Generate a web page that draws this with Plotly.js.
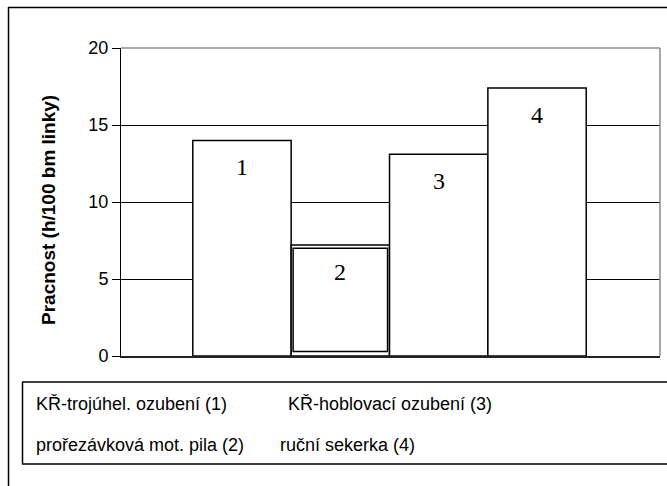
<!DOCTYPE html>
<html>
<head>
<meta charset="utf-8">
<script src="https://cdn.plot.ly/plotly-3.0.1.min.js"></script>
<style>
html,body{margin:0;padding:0;background:#fff;overflow:hidden;}
#chart{width:667px;height:486px;}
</style>
</head>
<body>
<div id="chart"></div>
<script>
// Data
var categories = ["1", "2", "3", "4"];
var values = [14.0, 7.2, 13.1, 17.4];
var barLabels = ["1", "2", "3", "4"];
// inner overlapping rectangle seen on bar 2
var innerCategory = ["2"];
var innerBase = [0.3];
var innerHeight = [6.7];
var yTicks = [0, 5, 10, 15, 20];
var yTitle = "Pracnost (h/100 bm linky)";
var legendTexts = [
  "KŘ-trojúhel. ozubení (1)",
  "KŘ-hoblovací ozubení (3)",
  "prořezávková mot. pila (2)",
  "ruční sekerka (4)"
];

// pixel -> paper helpers (plot area: x 121..660, y 48..356)
function px(x){ return (x - 121) / 539; }
function py(y){ return (356 - y) / 308; }

var traces = [
  {
    type: "bar",
    x: categories,
    y: values,
    width: 1,
    marker: {color: "#ffffff", line: {color: "#000000", width: 1.5}},
    hoverinfo: "x+y",
    showlegend: false
  },
  {
    type: "bar",
    x: innerCategory,
    y: innerHeight,
    base: innerBase,
    width: 0.96,
    marker: {color: "rgba(255,255,255,0)", line: {color: "#000000", width: 1.5}},
    hoverinfo: "x+y",
    showlegend: false
  }
];

var annotations = [];
for (var i = 0; i < categories.length; i++) {
  annotations.push({
    x: i, y: values[i], xref: "x", yref: "y",
    text: barLabels[i], showarrow: false,
    yanchor: "middle", xanchor: "center", yshift: -27,
    font: {family: "Liberation Serif, Times New Roman, serif", size: 24, color: "#000"}
  });
}
annotations.push({
  x: px(48), y: py(210), xref: "paper", yref: "paper",
  text: "<b>" + yTitle + "</b>", textangle: -90, showarrow: false,
  xanchor: "center", yanchor: "middle",
  font: {family: "Liberation Sans, Arial, sans-serif", size: 19, color: "#000"}
});
var legendPos = [[34, 404], [286, 404], [34, 445], [278, 445]];
for (var j = 0; j < legendTexts.length; j++) {
  annotations.push({
    x: px(legendPos[j][0]), y: py(legendPos[j][1]), xref: "paper", yref: "paper",
    text: legendTexts[j], showarrow: false, xanchor: "left", yanchor: "middle",
    font: {family: "Liberation Sans, Arial, sans-serif", size: 18, color: "#000"}
  });
}

function hline(x0, x1, y, color, w){
  return {type: "line", xref: "paper", yref: "paper", x0: px(x0), x1: px(x1), y0: py(y), y1: py(y),
          line: {color: color, width: w}, layer: "above"};
}
function vline(x, y0, y1, color, w){
  return {type: "line", xref: "paper", yref: "paper", x0: px(x), x1: px(x), y0: py(y0), y1: py(y1),
          line: {color: color, width: w}, layer: "above"};
}

var shapes = [
  // outer frame (top + left; right/bottom run off the picture)
  hline(8, 667, 7.5, "#000", 1.5),
  vline(8.5, 7, 486, "#000", 1.5),
  // legend box (top, bottom, left)
  hline(22, 667, 382, "#000", 1.5),
  hline(22, 667, 464, "#000", 1.5),
  vline(22.5, 382, 464, "#000", 1.5),
  // plot border top/right (gray)
  {type: "line", xref: "paper", yref: "paper", x0: 0, x1: 1, y0: 1, y1: 1,
   line: {color: "#8c8c8c", width: 1.5}, layer: "above"},
  {type: "line", xref: "paper", yref: "paper", x0: 1, x1: 1, y0: 0, y1: 1,
   line: {color: "#8c8c8c", width: 1.5}, layer: "above"}
];

var layout = {
  width: 667, height: 486,
  margin: {l: 121, r: 7, t: 48, b: 130, pad: 0},
  paper_bgcolor: "#fff", plot_bgcolor: "#fff",
  barmode: "overlay", bargap: 0,
  showlegend: false,
  xaxis: {
    type: "category", range: [-1.23, 4.25],
    showticklabels: false, ticks: "", showgrid: false, zeroline: false,
    showline: true, linecolor: "#222", linewidth: 2, fixedrange: true
  },
  yaxis: {
    range: [0, 20], tickvals: yTicks, ticktext: yTicks.map(String),
    ticks: "outside", ticklen: 8, tickcolor: "#000", tickwidth: 1,
    showline: true, linecolor: "#000", linewidth: 1,
    showgrid: true, gridcolor: "#000", gridwidth: 1, zeroline: false,
    tickfont: {family: "Liberation Sans, Arial, sans-serif", size: 18, color: "#000"},
    fixedrange: true
  },
  annotations: annotations,
  shapes: shapes
};

Plotly.newPlot("chart", traces, layout, {displayModeBar: false, staticPlot: true});
</script>
</body>
</html>
